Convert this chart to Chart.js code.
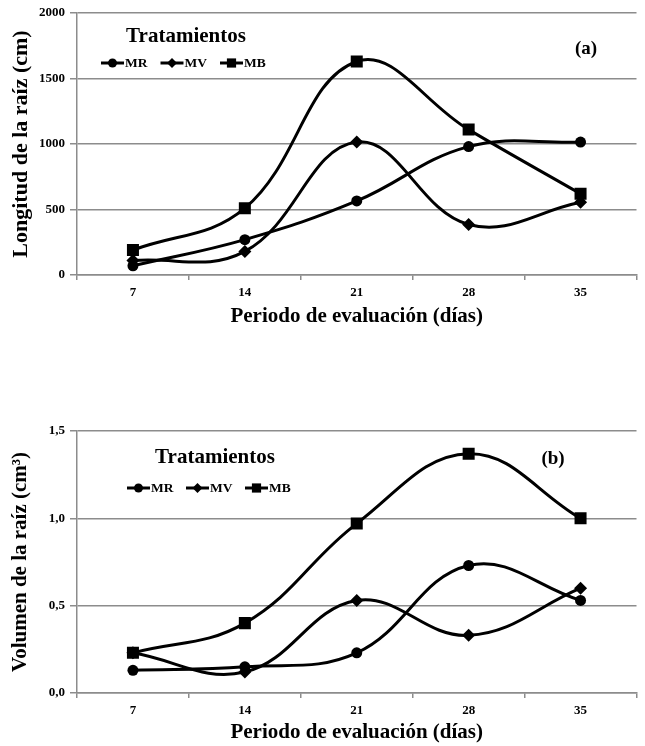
<!DOCTYPE html>
<html>
<head>
<meta charset="utf-8">
<script src="https://cdn.jsdelivr.net/npm/chart.js@4/dist/chart.umd.min.js"></script>
<style>
  html, body { margin: 0; padding: 0; background: #fff; }
  #wrap { position: relative; width: 645px; height: 746px; }
  .panel { position: absolute; left: 0; }
  #panelA { top: 0; width: 645px; height: 340px; }
  #panelB { top: 418px; width: 645px; height: 328px; }
</style>
</head>
<body>
<div id="wrap">
  <div class="panel" id="panelA"><canvas id="chartA"></canvas></div>
  <div class="panel" id="panelB"><canvas id="chartB"></canvas></div>
</div>
<script>
// Evaluation days (x categories)
const dias = ['7', '14', '21', '28', '35'];
const tratamientos = ['MR', 'MV', 'MB'];

// (a) Root length, cm
const longitudMR = [70, 270, 565, 980, 1015];
const longitudMV = [110, 180, 1015, 385, 555];
const longitudMB = [190, 510, 1630, 1110, 620];
const ticksLongitud = ['0', '500', '1000', '1500', '2000'];

// (b) Root volume, cm3
const volumenMR = [0.13, 0.15, 0.23, 0.73, 0.53];
const volumenMV = [0.23, 0.12, 0.53, 0.33, 0.60];
const volumenMB = [0.23, 0.40, 0.97, 1.37, 1.00];
const ticksVolumen = ['0,0', '0,5', '1,0', '1,5'];

const SERIF = '"Liberation Serif", "Times New Roman", serif';
const GRID = '#8c8c8c';

const markerStyle = {
  MR: { pointStyle: 'circle', radius: 5.5, legendRadius: 4.5 },
  MV: { pointStyle: 'rectRot', radius: 6.5, legendRadius: 5 },
  MB: { pointStyle: 'rect', radius: 8.5, legendRadius: 6.5 }
};

function makeDatasets(series) {
  return series.map((values, i) => {
    const name = tratamientos[i];
    const m = markerStyle[name];
    return {
      label: name,
      data: values,
      borderColor: '#000',
      backgroundColor: '#000',
      borderWidth: 3,
      tension: 0.4,
      pointStyle: m.pointStyle,
      pointRadius: m.radius,
      pointBackgroundColor: '#000',
      pointBorderColor: '#000',
      pointBorderWidth: 0,
      legendRadius: m.legendRadius
    };
  });
}

// Draws the "Tratamientos" key and the panel letter inside the plot area
const keyPlugin = {
  id: 'treatmentKey',
  afterDatasetsDraw(chart, args, opts) {
    const ctx = chart.ctx;
    ctx.save();
    ctx.fillStyle = '#000';
    ctx.textBaseline = 'middle';
    ctx.textAlign = 'center';
    ctx.font = 'bold 21px ' + SERIF;
    ctx.fillText(opts.title, opts.titleX, opts.titleY);

    ctx.font = 'bold 19px ' + SERIF;
    ctx.fillText(opts.panel, opts.panelX, opts.panelY);

    ctx.font = 'bold 13.5px ' + SERIF;
    ctx.textAlign = 'left';
    chart.data.datasets.forEach((ds, i) => {
      const x0 = opts.itemX + i * opts.itemGap;
      const x1 = x0 + opts.lineLen;
      const y = opts.itemY;
      ctx.strokeStyle = '#000';
      ctx.lineWidth = 3;
      ctx.beginPath();
      ctx.moveTo(x0, y);
      ctx.lineTo(x1, y);
      ctx.stroke();
      ctx.fillStyle = '#000';
      Chart.helpers.drawPoint(ctx, {
        pointStyle: ds.pointStyle, radius: ds.legendRadius, rotation: 0, borderWidth: 0
      }, (x0 + x1) / 2, y);
      ctx.fillStyle = '#000';
      ctx.fillText(ds.label, x1 + 1, y + 0.5);
    });
    ctx.restore();
  }
};

function makeChart(id, series, yMax, yStep, yTickLabels, yTitle, yTitleSize, xHeight, xTitlePad, key) {
  return new Chart(document.getElementById(id), {
    type: 'line',
    data: { labels: dias, datasets: makeDatasets(series) },
    plugins: [keyPlugin],
    options: {
      responsive: true,
      maintainAspectRatio: false,
      animation: false,
      layout: { padding: { top: 13, right: 5, left: 0, bottom: 0 } },
      plugins: {
        legend: { display: false },
        tooltip: { enabled: false },
        treatmentKey: key
      },
      scales: {
        x: {
          type: 'category',
          offset: true,
          grid: {
            display: true, drawOnChartArea: false, drawTicks: true,
            tickLength: 5, offset: true, color: GRID, lineWidth: 1.5
          },
          border: { display: true, color: GRID, width: 1.5 },
          ticks: {
            color: '#000', padding: 5,
            font: { family: SERIF, size: 13, weight: 'bold' },
            maxRotation: 0
          },
          title: {
            display: true, text: 'Periodo de evaluación (días)', color: '#000',
            font: { family: SERIF, size: 21, weight: 'bold' },
            padding: { top: 0, bottom: xTitlePad }
          },
          afterFit(scale) { scale.height = xHeight; }
        },
        y: {
          min: 0, max: yMax,
          grid: {
            color: GRID, lineWidth: 1.5, drawTicks: true, tickLength: 7
          },
          border: { display: true, color: GRID, width: 1.5 },
          ticks: {
            stepSize: yStep, color: '#000', padding: 5,
            font: { family: SERIF, size: 13, weight: 'bold' },
            callback: (v, i) => yTickLabels[i]
          },
          title: {
            display: true, text: yTitle, color: '#000',
            font: { family: SERIF, size: yTitleSize, weight: 'bold' },
            padding: { top: 8, bottom: 0 }
          },
          afterFit(scale) { scale.width = 77; }
        }
      }
    }
  });
}

makeChart('chartA', [longitudMR, longitudMV, longitudMB], 2000, 500, ticksLongitud,
  'Longitud de la raíz (cm)', 22, 65, 11,
  { title: 'Tratamientos', titleX: 186, titleY: 37, panel: '(a)', panelX: 586, panelY: 49,
    itemX: 101, itemY: 63, itemGap: 59.5, lineLen: 23 });

makeChart('chartB', [volumenMR, volumenMV, volumenMB], 1.5, 0.5, ticksVolumen,
  'Volumen de la raíz (cm³)', 21, 53, 1,
  { title: 'Tratamientos', titleX: 215, titleY: 40, panel: '(b)', panelX: 553, panelY: 41,
    itemX: 127, itemY: 70, itemGap: 59, lineLen: 23 });
</script>
</body>
</html>
